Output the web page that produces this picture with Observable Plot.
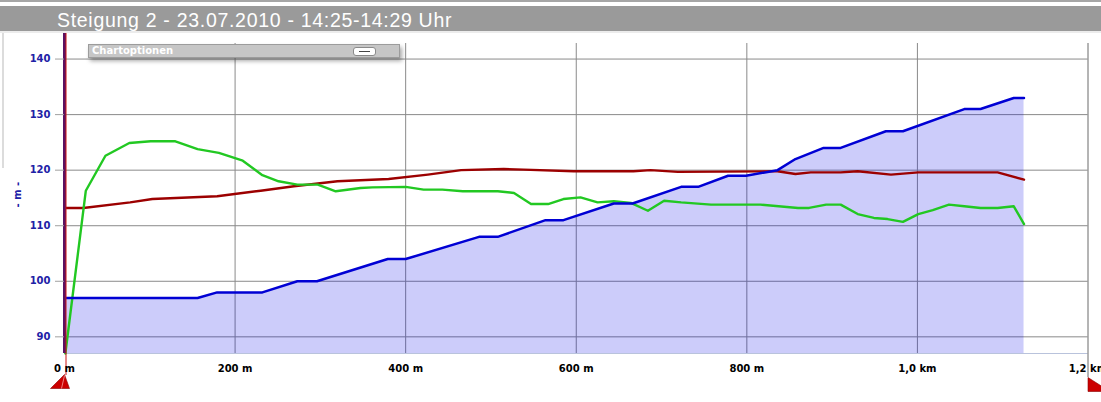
<!DOCTYPE html>
<html><head><meta charset="utf-8">
<script src="https://cdn.jsdelivr.net/npm/d3@7"></script>
<script src="https://cdn.jsdelivr.net/npm/@observablehq/plot@0.6"></script>
<style>
html,body{margin:0;padding:0;background:#fff}
body{width:1101px;height:402px;overflow:hidden;position:relative;font-family:"DejaVu Sans",sans-serif}
#topline{position:absolute;left:0;top:0;width:1101px;height:2px;background:#a6a6a6}
#titlebar{position:absolute;left:0;top:6px;width:1101px;height:25px;background:#9a9a9a}
#titlebar span{position:absolute;left:57px;top:1.5px;line-height:25px;font-family:"Liberation Sans",Arial,sans-serif;font-size:19.5px;letter-spacing:0.7px;color:#fff;white-space:nowrap}
#underline{position:absolute;left:0;top:31px;width:1101px;height:2px;background:#ececec}
#leftborder{position:absolute;left:2px;top:33px;width:2px;height:135px;background:#dcdcdc}
#chart{position:absolute;left:0;top:33px}
#opts{position:absolute;left:88px;top:44px;width:307px;height:12px;background:#c6c6c6;border:1px solid #9c9c9c;box-shadow:2px 3px 4px rgba(0,0,0,0.35);font:bold 10px "DejaVu Sans",Verdana,sans-serif;color:#fff;line-height:12px;padding-left:3px;box-sizing:content-box}
#opts .btn{position:absolute;left:264px;top:2px;width:21px;height:7px;background:#fff;border:1px solid #8a8a8a;border-radius:3px}
#opts .btn i{position:absolute;left:5px;top:3px;width:11px;height:1px;background:#444}
</style>
</head><body>
<div id="topline"></div>
<div id="titlebar"><span id="title"></span></div>
<div id="underline"></div>
<div id="leftborder"></div>
<div id="chart"></div>
<div id="opts"><span id="optsLabel"></span><div class="btn"><i></i></div></div>
<script>
const titleText = "Steigung 2 - 23.07.2010 - 14:25-14:29 Uhr";
const optionsLabel = "Chartoptionen";

const elevationDist   = [0, 156, 179, 232, 273, 296, 379, 400, 486, 508, 564, 585, 644, 666, 723, 743, 778, 799, 836, 857, 890, 910, 963, 983, 1055, 1074, 1113, 1125];
const elevationValues = [97, 97, 98, 98, 100, 100, 104, 104, 108, 108, 111, 111, 114, 114, 117, 117, 119, 119, 120, 122, 124, 124, 127, 127, 131, 131, 133, 133];

const redDist   = [0, 22, 77, 103, 179, 230, 269, 320, 380, 426, 465, 515, 538, 597, 667, 687, 719, 836, 857, 875, 910, 930, 969, 1001, 1094, 1125];
const redValues = [113.2, 113.2, 114.2, 114.8, 115.3, 116.3, 117.1, 118.0, 118.4, 119.2, 120.0, 120.2, 120.1, 119.8, 119.8, 120.0, 119.7, 119.8, 119.3, 119.6, 119.6, 119.8, 119.2, 119.6, 119.6, 118.3];

const greenDist   = [1, 25, 48, 76, 101, 130, 156, 181, 209, 232, 251, 273, 297, 318, 347, 361, 400, 421, 443, 467, 508, 527, 547, 567, 585, 605, 625, 644, 664, 684, 703, 723, 758, 816, 860, 873, 893, 910, 930, 949, 965, 983, 1001, 1018, 1037, 1055, 1074, 1094, 1113, 1125];
const greenValues = [87, 116.3, 122.6, 124.9, 125.2, 125.2, 123.8, 123.1, 121.7, 119.1, 118.0, 117.4, 117.4, 116.2, 116.8, 116.9, 117.0, 116.5, 116.5, 116.2, 116.2, 115.9, 113.9, 113.9, 114.8, 115.1, 114.2, 114.4, 114.1, 112.7, 114.5, 114.2, 113.8, 113.8, 113.2, 113.2, 113.8, 113.8, 112.1, 111.4, 111.2, 110.7, 112.1, 112.8, 113.8, 113.5, 113.2, 113.2, 113.5, 110.3];

const xTicks = [0, 200, 400, 600, 800, 1000, 1200];
const xTickLabels = ["0 m", "200 m", "400 m", "600 m", "800 m", "1,0 km", "1,2 km"];
const yTicks = [90, 100, 110, 120, 130, 140];
const yAxisLabel = "- m -";
const xDomain = [0, 1200];
const yDomain = [87, 142.8];

document.getElementById("title").textContent = titleText;
document.getElementById("optsLabel").textContent = optionsLabel;

const toRows = (xs, ys) => xs.map((x, i) => ({x, y: ys[i]}));
const elevation = toRows(elevationDist, elevationValues);
const red = toRows(redDist, redValues);
const green = toRows(greenDist, greenValues);

const leftHandle = {draw(c) { c.moveTo(0, 0); c.lineTo(5, 14); c.lineTo(-14, 14); c.closePath(); }};
const leftHandleShine = {draw(c) { c.moveTo(0, 1); c.lineTo(-3, 14); }};
const rightHandle = {draw(c) { c.moveTo(0, 0); c.lineTo(22, 14); c.lineTo(0, 14); c.closePath(); }};

const chart = Plot.plot({
  width: 1101, height: 369,
  marginLeft: 64, marginRight: 13.5, marginTop: 10, marginBottom: 49,
  style: {background: "transparent", overflow: "visible"},
  x: {domain: xDomain, axis: null},
  y: {domain: yDomain, axis: null},
  marks: [
    Plot.gridY(yTicks, {stroke: "#8a8a8a", strokeOpacity: 1}),
    Plot.gridX(xTicks.slice(1, -1), {stroke: "#8a8a8a", strokeOpacity: 1}),
    Plot.areaY(elevation, {x: "x", y1: yDomain[0], y2: "y", fill: "#0000e6", fillOpacity: 0.2}),
    Plot.ruleY([yDomain[0]], {stroke: "#b9c3dc"}),
    Plot.line(red, {x: "x", y: "y", stroke: "#9c0000", strokeWidth: 2.4}),
    Plot.line(green, {x: "x", y: "y", stroke: "#22c822", strokeWidth: 2.4}),
    Plot.line(elevation, {x: "x", y: "y", stroke: "#0000d4", strokeWidth: 2.5}),
    Plot.ruleX([xDomain[1]], {stroke: "#6a6a6a", insetBottom: -24}),
    Plot.ruleX([xDomain[0]], {stroke: "#5a1262", strokeWidth: 3, insetTop: -10}),
    Plot.ruleX([xDomain[0]], {stroke: "#cc1515", strokeWidth: 1, dx: 1.5, insetTop: -10, insetBottom: -22}),
    Plot.axisY(yTicks, {tickSize: 9, tickPadding: 5, stroke: "#a0a0a0", fill: "#2121a6", fontWeight: "bold", fontSize: 10, fontFamily: "DejaVu Sans", label: null, tickFormat: d => String(d)}),
    Plot.axisX(xTicks, {tickSize: 0, tickPadding: 11, fill: "#000", fontWeight: "bold", fontSize: 10, fontFamily: "DejaVu Sans", label: null, tickFormat: d => xTickLabels[xTicks.indexOf(d)]}),
    Plot.text([yAxisLabel], {frameAnchor: "left", dx: -47, dy: 9, rotate: -90, fill: "#2121a6", fontWeight: "bold", fontSize: 10, fontFamily: "DejaVu Sans"}),
    Plot.dot([xDomain[0]], {x: d => d, frameAnchor: "bottom", dy: 21, symbol: leftHandle, fill: "#cc0000", stroke: "#8a0000", strokeWidth: 0.6}),
    Plot.dot([xDomain[0]], {x: d => d, frameAnchor: "bottom", dy: 21, symbol: leftHandleShine, fill: "none", stroke: "#ee8080", strokeWidth: 1}),
    Plot.dot([xDomain[1]], {x: d => d, frameAnchor: "bottom", dy: 24, symbol: rightHandle, fill: "#cc0000", stroke: "#8a0000", strokeWidth: 0.6})
  ]
});
document.getElementById("chart").appendChild(chart);
</script>
</body></html>
